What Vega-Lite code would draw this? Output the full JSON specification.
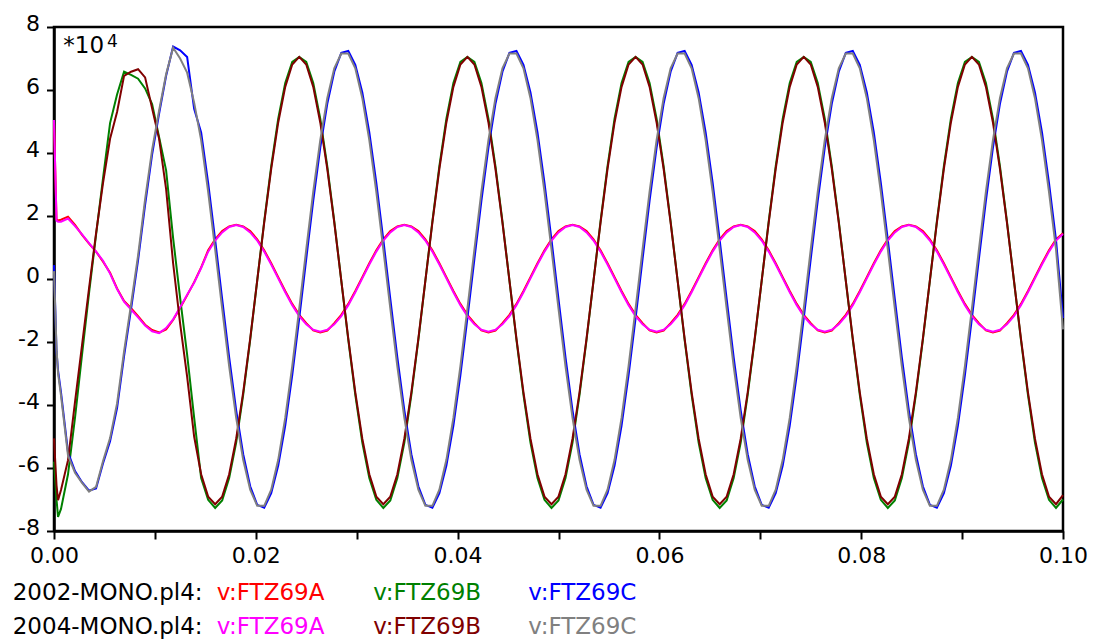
{
"$schema": "https://vega.github.io/schema/vega-lite/v6.json",
"width": 1009, "height": 504,
"autosize": {"type": "none"},
"padding": {"left": 54, "top": 27, "right": 31, "bottom": 109},
"background": "white",
"config": {"view": {"stroke": "black", "strokeWidth": 2.5}, "font": "DejaVu Sans"},
"datasets": {
"wave": [
{"t":0,"s1":5.0,"s2":-5.8,"s3":0.44,"s4":5.05,"s5":-5.06,"s6":0.25},
{"t":0.00025,"s1":1.9,"s2":-7.0,"s3":-2.3,"s4":1.85,"s5":-6.55,"s6":-2.2},
{"t":0.0004,"s1":1.86,"s2":-7.55,"s3":-2.9,"s4":1.82,"s5":-7.02,"s6":-3.0},
{"t":0.000694,"s1":1.88,"s2":-7.3,"s3":-3.6,"s4":1.82,"s5":-6.7,"s6":-3.7},
{"t":0.001389,"s1":1.98,"s2":-6.2,"s3":-5.5,"s4":1.92,"s5":-5.75,"s6":-5.6},
{"t":0.002083,"s1":1.72,"s2":-4.4,"s3":-6.1,"s4":1.68,"s5":-3.9,"s6":-6.15},
{"t":0.002778,"s1":1.40,"s2":-2.4,"s3":-6.45,"s4":1.42,"s5":-2.1,"s6":-6.47},
{"t":0.003472,"s1":1.12,"s2":-0.45,"s3":-6.72,"s4":1.14,"s5":-0.3,"s6":-6.75},
{"t":0.004167,"s1":0.87,"s2":1.4,"s3":-6.65,"s4":0.87,"s5":1.45,"s6":-6.6},
{"t":0.004861,"s1":0.55,"s2":3.2,"s3":-5.85,"s4":0.58,"s5":3.05,"s6":-5.78},
{"t":0.005556,"s1":0.2,"s2":4.95,"s3":-5.15,"s4":0.17,"s5":4.45,"s6":-5.05},
{"t":0.00625,"s1":-0.3,"s2":5.86,"s3":-4.1,"s4":-0.32,"s5":5.3,"s6":-3.95},
{"t":0.006944,"s1":-0.7,"s2":6.58,"s3":-2.45,"s4":-0.72,"s5":6.45,"s6":-2.3},
{"t":0.007639,"s1":-0.93,"s2":6.48,"s3":-0.95,"s4":-0.97,"s5":6.58,"s6":-0.8},
{"t":0.008333,"s1":-1.18,"s2":6.36,"s3":0.6,"s4":-1.22,"s5":6.66,"s6":0.75},
{"t":0.009028,"s1":-1.45,"s2":6.05,"s3":2.35,"s4":-1.48,"s5":6.4,"s6":2.53},
{"t":0.009722,"s1":-1.62,"s2":5.55,"s3":3.95,"s4":-1.66,"s5":5.42,"s6":4.1},
{"t":0.010417,"s1":-1.70,"s2":4.5,"s3":5.25,"s4":-1.72,"s5":4.45,"s6":5.35},
{"t":0.011111,"s1":-1.6,"s2":3.45,"s3":6.45,"s4":-1.56,"s5":2.85,"s6":6.5},
{"t":0.011806,"s1":-1.3,"s2":1.3,"s3":7.38,"s4":-1.28,"s5":0.5,"s6":7.34},
{"t":0.0125,"s1":-0.92,"s2":-0.6,"s3":7.26,"s4":-0.9,"s5":-1.42,"s6":7.0},
{"t":0.013194,"s1":-0.52,"s2":-2.4,"s3":7.05,"s4":-0.5,"s5":-3.1,"s6":6.55},
{"t":0.013889,"s1":-0.1,"s2":-4.4,"s3":5.4,"s4":-0.12,"s5":-5.0,"s6":5.6},
{"t":0.014583,"s1":0.37,"s2":-6.32,"s3":4.65,"s4":0.35,"s5":-6.2,"s6":4.41},
{"t":0.015278,"s1":0.91,"s2":-7.01,"s3":3.05,"s4":0.87,"s5":-6.91,"s6":2.77},
{"t":0.015972,"s1":1.26,"s2":-7.27,"s3":1.24,"s4":1.22,"s5":-7.15,"s6":0.94},
{"t":0.016667,"s1":1.52,"s2":-7.03,"s3":-0.64,"s4":1.48,"s5":-6.91,"s6":-0.94},
{"t":0.017361,"s1":1.67,"s2":-6.32,"s3":-2.49,"s4":1.65,"s5":-6.2,"s6":-2.77},
{"t":0.018056,"s1":1.72,"s2":-5.19,"s3":-4.17,"s4":1.71,"s5":-5.07,"s6":-4.41},
{"t":0.01875,"s1":1.67,"s2":-3.68,"s3":-5.56,"s4":1.65,"s5":-3.6,"s6":-5.74},
{"t":0.019444,"s1":1.52,"s2":-1.93,"s3":-6.58,"s4":1.48,"s5":-1.89,"s6":-6.69},
{"t":0.020139,"s1":1.26,"s2":-0.05,"s3":-7.17,"s4":1.22,"s5":-0.05,"s6":-7.2},
{"t":0.020833,"s1":0.91,"s2":1.83,"s3":-7.26,"s4":0.87,"s5":1.79,"s6":-7.2},
{"t":0.021528,"s1":0.5,"s2":3.58,"s3":-6.8,"s4":0.46,"s5":3.5,"s6":-6.69},
{"t":0.022222,"s1":0.06,"s2":5.09,"s3":-5.92,"s4":0.02,"s5":4.97,"s6":-5.74},
{"t":0.022917,"s1":-0.38,"s2":6.22,"s3":-4.65,"s4":-0.42,"s5":6.1,"s6":-4.41},
{"t":0.023611,"s1":-0.79,"s2":6.89,"s3":-3.05,"s4":-0.83,"s5":6.81,"s6":-2.77},
{"t":0.024306,"s1":-1.14,"s2":7.05,"s3":-1.24,"s4":-1.18,"s5":7.05,"s6":-0.94},
{"t":0.025,"s1":-1.4,"s2":6.89,"s3":0.64,"s4":-1.44,"s5":6.81,"s6":0.94},
{"t":0.025694,"s1":-1.63,"s2":6.22,"s3":2.49,"s4":-1.61,"s5":6.1,"s6":2.77},
{"t":0.026389,"s1":-1.7,"s2":5.09,"s3":4.17,"s4":-1.67,"s5":4.97,"s6":4.41},
{"t":0.027083,"s1":-1.64,"s2":3.58,"s3":5.56,"s4":-1.61,"s5":3.5,"s6":5.74},
{"t":0.027778,"s1":-1.4,"s2":1.83,"s3":6.58,"s4":-1.44,"s5":1.79,"s6":6.69},
{"t":0.028472,"s1":-1.14,"s2":-0.05,"s3":7.18,"s4":-1.18,"s5":-0.05,"s6":7.16},
{"t":0.029167,"s1":-0.79,"s2":-1.93,"s3":7.24,"s4":-0.83,"s5":-1.89,"s6":7.16},
{"t":0.029861,"s1":-0.38,"s2":-3.68,"s3":6.8,"s4":-0.42,"s5":-3.6,"s6":6.69},
{"t":0.030556,"s1":0.06,"s2":-5.19,"s3":5.92,"s4":0.02,"s5":-5.07,"s6":5.74},
{"t":0.03125,"s1":0.5,"s2":-6.32,"s3":4.65,"s4":0.46,"s5":-6.2,"s6":4.41},
{"t":0.031944,"s1":0.91,"s2":-7.01,"s3":3.05,"s4":0.87,"s5":-6.91,"s6":2.77},
{"t":0.032639,"s1":1.26,"s2":-7.27,"s3":1.24,"s4":1.22,"s5":-7.15,"s6":0.94},
{"t":0.033333,"s1":1.52,"s2":-7.03,"s3":-0.64,"s4":1.48,"s5":-6.91,"s6":-0.94},
{"t":0.034028,"s1":1.67,"s2":-6.32,"s3":-2.49,"s4":1.65,"s5":-6.2,"s6":-2.77},
{"t":0.034722,"s1":1.72,"s2":-5.19,"s3":-4.17,"s4":1.71,"s5":-5.07,"s6":-4.41},
{"t":0.035417,"s1":1.67,"s2":-3.68,"s3":-5.56,"s4":1.65,"s5":-3.6,"s6":-5.74},
{"t":0.036111,"s1":1.52,"s2":-1.93,"s3":-6.58,"s4":1.48,"s5":-1.89,"s6":-6.69},
{"t":0.036806,"s1":1.26,"s2":-0.05,"s3":-7.17,"s4":1.22,"s5":-0.05,"s6":-7.2},
{"t":0.0375,"s1":0.91,"s2":1.83,"s3":-7.26,"s4":0.87,"s5":1.79,"s6":-7.2},
{"t":0.038194,"s1":0.5,"s2":3.58,"s3":-6.8,"s4":0.46,"s5":3.5,"s6":-6.69},
{"t":0.038889,"s1":0.06,"s2":5.09,"s3":-5.92,"s4":0.02,"s5":4.97,"s6":-5.74},
{"t":0.039583,"s1":-0.38,"s2":6.22,"s3":-4.65,"s4":-0.42,"s5":6.1,"s6":-4.41},
{"t":0.040278,"s1":-0.79,"s2":6.89,"s3":-3.05,"s4":-0.83,"s5":6.81,"s6":-2.77},
{"t":0.040972,"s1":-1.14,"s2":7.05,"s3":-1.24,"s4":-1.18,"s5":7.05,"s6":-0.94},
{"t":0.041667,"s1":-1.4,"s2":6.89,"s3":0.64,"s4":-1.44,"s5":6.81,"s6":0.94},
{"t":0.042361,"s1":-1.63,"s2":6.22,"s3":2.49,"s4":-1.61,"s5":6.1,"s6":2.77},
{"t":0.043056,"s1":-1.7,"s2":5.09,"s3":4.17,"s4":-1.67,"s5":4.97,"s6":4.41},
{"t":0.04375,"s1":-1.64,"s2":3.58,"s3":5.56,"s4":-1.61,"s5":3.5,"s6":5.74},
{"t":0.044444,"s1":-1.4,"s2":1.83,"s3":6.58,"s4":-1.44,"s5":1.79,"s6":6.69},
{"t":0.045139,"s1":-1.14,"s2":-0.05,"s3":7.18,"s4":-1.18,"s5":-0.05,"s6":7.16},
{"t":0.045833,"s1":-0.79,"s2":-1.93,"s3":7.24,"s4":-0.83,"s5":-1.89,"s6":7.16},
{"t":0.046528,"s1":-0.38,"s2":-3.68,"s3":6.8,"s4":-0.42,"s5":-3.6,"s6":6.69},
{"t":0.047222,"s1":0.06,"s2":-5.19,"s3":5.92,"s4":0.02,"s5":-5.07,"s6":5.74},
{"t":0.047917,"s1":0.5,"s2":-6.32,"s3":4.65,"s4":0.46,"s5":-6.2,"s6":4.41},
{"t":0.048611,"s1":0.91,"s2":-7.01,"s3":3.05,"s4":0.87,"s5":-6.91,"s6":2.77},
{"t":0.049306,"s1":1.26,"s2":-7.27,"s3":1.24,"s4":1.22,"s5":-7.15,"s6":0.94},
{"t":0.05,"s1":1.52,"s2":-7.03,"s3":-0.64,"s4":1.48,"s5":-6.91,"s6":-0.94},
{"t":0.050694,"s1":1.67,"s2":-6.32,"s3":-2.49,"s4":1.65,"s5":-6.2,"s6":-2.77},
{"t":0.051389,"s1":1.72,"s2":-5.19,"s3":-4.17,"s4":1.71,"s5":-5.07,"s6":-4.41},
{"t":0.052083,"s1":1.67,"s2":-3.68,"s3":-5.56,"s4":1.65,"s5":-3.6,"s6":-5.74},
{"t":0.052778,"s1":1.52,"s2":-1.93,"s3":-6.58,"s4":1.48,"s5":-1.89,"s6":-6.69},
{"t":0.053472,"s1":1.26,"s2":-0.05,"s3":-7.17,"s4":1.22,"s5":-0.05,"s6":-7.2},
{"t":0.054167,"s1":0.91,"s2":1.83,"s3":-7.26,"s4":0.87,"s5":1.79,"s6":-7.2},
{"t":0.054861,"s1":0.5,"s2":3.58,"s3":-6.8,"s4":0.46,"s5":3.5,"s6":-6.69},
{"t":0.055556,"s1":0.06,"s2":5.09,"s3":-5.92,"s4":0.02,"s5":4.97,"s6":-5.74},
{"t":0.05625,"s1":-0.38,"s2":6.22,"s3":-4.65,"s4":-0.42,"s5":6.1,"s6":-4.41},
{"t":0.056944,"s1":-0.79,"s2":6.89,"s3":-3.05,"s4":-0.83,"s5":6.81,"s6":-2.77},
{"t":0.057639,"s1":-1.14,"s2":7.05,"s3":-1.24,"s4":-1.18,"s5":7.05,"s6":-0.94},
{"t":0.058333,"s1":-1.4,"s2":6.89,"s3":0.64,"s4":-1.44,"s5":6.81,"s6":0.94},
{"t":0.059028,"s1":-1.63,"s2":6.22,"s3":2.49,"s4":-1.61,"s5":6.1,"s6":2.77},
{"t":0.059722,"s1":-1.7,"s2":5.09,"s3":4.17,"s4":-1.67,"s5":4.97,"s6":4.41},
{"t":0.060417,"s1":-1.64,"s2":3.58,"s3":5.56,"s4":-1.61,"s5":3.5,"s6":5.74},
{"t":0.061111,"s1":-1.4,"s2":1.83,"s3":6.58,"s4":-1.44,"s5":1.79,"s6":6.69},
{"t":0.061806,"s1":-1.14,"s2":-0.05,"s3":7.18,"s4":-1.18,"s5":-0.05,"s6":7.16},
{"t":0.0625,"s1":-0.79,"s2":-1.93,"s3":7.24,"s4":-0.83,"s5":-1.89,"s6":7.16},
{"t":0.063194,"s1":-0.38,"s2":-3.68,"s3":6.8,"s4":-0.42,"s5":-3.6,"s6":6.69},
{"t":0.063889,"s1":0.06,"s2":-5.19,"s3":5.92,"s4":0.02,"s5":-5.07,"s6":5.74},
{"t":0.064583,"s1":0.5,"s2":-6.32,"s3":4.65,"s4":0.46,"s5":-6.2,"s6":4.41},
{"t":0.065278,"s1":0.91,"s2":-7.01,"s3":3.05,"s4":0.87,"s5":-6.91,"s6":2.77},
{"t":0.065972,"s1":1.26,"s2":-7.27,"s3":1.24,"s4":1.22,"s5":-7.15,"s6":0.94},
{"t":0.066667,"s1":1.52,"s2":-7.03,"s3":-0.64,"s4":1.48,"s5":-6.91,"s6":-0.94},
{"t":0.067361,"s1":1.67,"s2":-6.32,"s3":-2.49,"s4":1.65,"s5":-6.2,"s6":-2.77},
{"t":0.068056,"s1":1.72,"s2":-5.19,"s3":-4.17,"s4":1.71,"s5":-5.07,"s6":-4.41},
{"t":0.06875,"s1":1.67,"s2":-3.68,"s3":-5.56,"s4":1.65,"s5":-3.6,"s6":-5.74},
{"t":0.069444,"s1":1.52,"s2":-1.93,"s3":-6.58,"s4":1.48,"s5":-1.89,"s6":-6.69},
{"t":0.070139,"s1":1.26,"s2":-0.05,"s3":-7.17,"s4":1.22,"s5":-0.05,"s6":-7.2},
{"t":0.070833,"s1":0.91,"s2":1.83,"s3":-7.26,"s4":0.87,"s5":1.79,"s6":-7.2},
{"t":0.071528,"s1":0.5,"s2":3.58,"s3":-6.8,"s4":0.46,"s5":3.5,"s6":-6.69},
{"t":0.072222,"s1":0.06,"s2":5.09,"s3":-5.92,"s4":0.02,"s5":4.97,"s6":-5.74},
{"t":0.072917,"s1":-0.38,"s2":6.22,"s3":-4.65,"s4":-0.42,"s5":6.1,"s6":-4.41},
{"t":0.073611,"s1":-0.79,"s2":6.89,"s3":-3.05,"s4":-0.83,"s5":6.81,"s6":-2.77},
{"t":0.074306,"s1":-1.14,"s2":7.05,"s3":-1.24,"s4":-1.18,"s5":7.05,"s6":-0.94},
{"t":0.075,"s1":-1.4,"s2":6.89,"s3":0.64,"s4":-1.44,"s5":6.81,"s6":0.94},
{"t":0.075694,"s1":-1.63,"s2":6.22,"s3":2.49,"s4":-1.61,"s5":6.1,"s6":2.77},
{"t":0.076389,"s1":-1.7,"s2":5.09,"s3":4.17,"s4":-1.67,"s5":4.97,"s6":4.41},
{"t":0.077083,"s1":-1.64,"s2":3.58,"s3":5.56,"s4":-1.61,"s5":3.5,"s6":5.74},
{"t":0.077778,"s1":-1.4,"s2":1.83,"s3":6.58,"s4":-1.44,"s5":1.79,"s6":6.69},
{"t":0.078472,"s1":-1.14,"s2":-0.05,"s3":7.18,"s4":-1.18,"s5":-0.05,"s6":7.16},
{"t":0.079167,"s1":-0.79,"s2":-1.93,"s3":7.24,"s4":-0.83,"s5":-1.89,"s6":7.16},
{"t":0.079861,"s1":-0.38,"s2":-3.68,"s3":6.8,"s4":-0.42,"s5":-3.6,"s6":6.69},
{"t":0.080556,"s1":0.06,"s2":-5.19,"s3":5.92,"s4":0.02,"s5":-5.07,"s6":5.74},
{"t":0.08125,"s1":0.5,"s2":-6.32,"s3":4.65,"s4":0.46,"s5":-6.2,"s6":4.41},
{"t":0.081944,"s1":0.91,"s2":-7.01,"s3":3.05,"s4":0.87,"s5":-6.91,"s6":2.77},
{"t":0.082639,"s1":1.26,"s2":-7.27,"s3":1.24,"s4":1.22,"s5":-7.15,"s6":0.94},
{"t":0.083333,"s1":1.52,"s2":-7.03,"s3":-0.64,"s4":1.48,"s5":-6.91,"s6":-0.94},
{"t":0.084028,"s1":1.67,"s2":-6.32,"s3":-2.49,"s4":1.65,"s5":-6.2,"s6":-2.77},
{"t":0.084722,"s1":1.72,"s2":-5.19,"s3":-4.17,"s4":1.71,"s5":-5.07,"s6":-4.41},
{"t":0.085417,"s1":1.67,"s2":-3.68,"s3":-5.56,"s4":1.65,"s5":-3.6,"s6":-5.74},
{"t":0.086111,"s1":1.52,"s2":-1.93,"s3":-6.58,"s4":1.48,"s5":-1.89,"s6":-6.69},
{"t":0.086806,"s1":1.26,"s2":-0.05,"s3":-7.17,"s4":1.22,"s5":-0.05,"s6":-7.2},
{"t":0.0875,"s1":0.91,"s2":1.83,"s3":-7.26,"s4":0.87,"s5":1.79,"s6":-7.2},
{"t":0.088194,"s1":0.5,"s2":3.58,"s3":-6.8,"s4":0.46,"s5":3.5,"s6":-6.69},
{"t":0.088889,"s1":0.06,"s2":5.09,"s3":-5.92,"s4":0.02,"s5":4.97,"s6":-5.74},
{"t":0.089583,"s1":-0.38,"s2":6.22,"s3":-4.65,"s4":-0.42,"s5":6.1,"s6":-4.41},
{"t":0.090278,"s1":-0.79,"s2":6.89,"s3":-3.05,"s4":-0.83,"s5":6.81,"s6":-2.77},
{"t":0.090972,"s1":-1.14,"s2":7.05,"s3":-1.24,"s4":-1.18,"s5":7.05,"s6":-0.94},
{"t":0.091667,"s1":-1.4,"s2":6.89,"s3":0.64,"s4":-1.44,"s5":6.81,"s6":0.94},
{"t":0.092361,"s1":-1.63,"s2":6.22,"s3":2.49,"s4":-1.61,"s5":6.1,"s6":2.77},
{"t":0.093056,"s1":-1.7,"s2":5.09,"s3":4.17,"s4":-1.67,"s5":4.97,"s6":4.41},
{"t":0.09375,"s1":-1.64,"s2":3.58,"s3":5.56,"s4":-1.61,"s5":3.5,"s6":5.74},
{"t":0.094444,"s1":-1.4,"s2":1.83,"s3":6.58,"s4":-1.44,"s5":1.79,"s6":6.69},
{"t":0.095139,"s1":-1.14,"s2":-0.05,"s3":7.18,"s4":-1.18,"s5":-0.05,"s6":7.16},
{"t":0.095833,"s1":-0.79,"s2":-1.93,"s3":7.24,"s4":-0.83,"s5":-1.89,"s6":7.16},
{"t":0.096528,"s1":-0.38,"s2":-3.68,"s3":6.8,"s4":-0.42,"s5":-3.6,"s6":6.69},
{"t":0.097222,"s1":0.06,"s2":-5.19,"s3":5.92,"s4":0.02,"s5":-5.07,"s6":5.74},
{"t":0.097917,"s1":0.5,"s2":-6.32,"s3":4.65,"s4":0.46,"s5":-6.2,"s6":4.41},
{"t":0.098611,"s1":0.91,"s2":-7.01,"s3":3.05,"s4":0.87,"s5":-6.91,"s6":2.77},
{"t":0.099306,"s1":1.26,"s2":-7.27,"s3":1.24,"s4":1.22,"s5":-7.15,"s6":0.94},
{"t":0.1,"s1":1.45,"s2":-7.0,"s3":-1.24,"s4":1.43,"s5":-6.86,"s6":-1.6}
],
"blackText": [
{"label":"*10","t":0.00092,"v":7.175},
{"label":"2002-MONO.pl4:","t":-0.00409,"v":-10.19},
{"label":"2004-MONO.pl4:","t":-0.00409,"v":-11.28}
],
"supText": [
{"label":"4","t":0.00525,"v":7.38}
],
"legendText": [
{"label":"v:FTZ69A","series":"s1","t":0.01612,"v":-10.19},
{"label":"v:FTZ69B","series":"s2","t":0.03165,"v":-10.19},
{"label":"v:FTZ69C","series":"s3","t":0.04701,"v":-10.19},
{"label":"v:FTZ69A","series":"s4","t":0.01612,"v":-11.28},
{"label":"v:FTZ69B","series":"s5","t":0.03165,"v":-11.28},
{"label":"v:FTZ69C","series":"s6","t":0.04701,"v":-11.28}
]
},
"layer": [
{
"data": {"name": "wave"},
"transform": [
{"fold": ["s1","s2","s3","s4","s5","s6"], "as": ["series","v"]},
{"filter": "isValid(datum.v)"}
],
"mark": {"type": "line", "strokeWidth": 2, "clip": false},
"encoding": {
"x": {"field": "t", "type": "quantitative",
"scale": {"domain": [0, 0.1], "nice": false, "zero": false},
"axis": {"values": [0,0.01,0.02,0.03,0.04,0.05,0.06,0.07,0.08,0.09,0.1],
"labelExpr": "round(datum.value*100) % 2 == 0 ? format(datum.value, '.2f') : ''",
"title": null, "grid": false, "tickSize": 8, "tickWidth": 2, "tickColor": "black",
"domainColor": "black", "domainWidth": 2.5, "labelColor": "black", "labelFont": "DejaVu Sans",
"labelFontSize": 22, "labelPadding": 6, "labelFlush": false, "labelOverlap": false, "labelBound": false}},
"y": {"field": "v", "type": "quantitative",
"scale": {"domain": [-8, 8], "nice": false, "zero": false},
"axis": {"values": [-8,-6,-4,-2,0,2,4,6,8],
"labelExpr": "'' + datum.value",
"title": null, "grid": false, "tickSize": 7.5, "tickWidth": 2, "tickColor": "black",
"domainColor": "black", "domainWidth": 2.5, "labelColor": "black", "labelFont": "DejaVu Sans",
"labelFontSize": 22, "labelPadding": 7, "labelOffset": -4, "labelFlush": false, "labelOverlap": false, "labelBound": false}},
"color": {"field": "series", "type": "nominal",
"scale": {"domain": ["s1","s2","s3","s4","s5","s6"], "range": ["#ff0000","#008000","#0000ff","#ff00ff","#800000","#808080"]},
"legend": null},
"order": {"field": "t", "type": "quantitative"}
}
},
{
"data": {"name": "blackText"},
"mark": {"type": "text", "align": "left", "baseline": "alphabetic", "fontSize": 23, "font": "DejaVu Sans", "color": "black"},
"encoding": {
"x": {"field": "t", "type": "quantitative"},
"y": {"field": "v", "type": "quantitative"},
"text": {"field": "label"}
}
},
{
"data": {"name": "supText"},
"mark": {"type": "text", "align": "left", "baseline": "alphabetic", "fontSize": 17, "font": "DejaVu Sans", "color": "black"},
"encoding": {
"x": {"field": "t", "type": "quantitative"},
"y": {"field": "v", "type": "quantitative"},
"text": {"field": "label"}
}
},
{
"data": {"name": "legendText"},
"mark": {"type": "text", "align": "left", "baseline": "alphabetic", "fontSize": 23, "font": "DejaVu Sans"},
"encoding": {
"x": {"field": "t", "type": "quantitative"},
"y": {"field": "v", "type": "quantitative"},
"text": {"field": "label"},
"color": {"field": "series", "type": "nominal", "legend": null}
}
}
]
}
